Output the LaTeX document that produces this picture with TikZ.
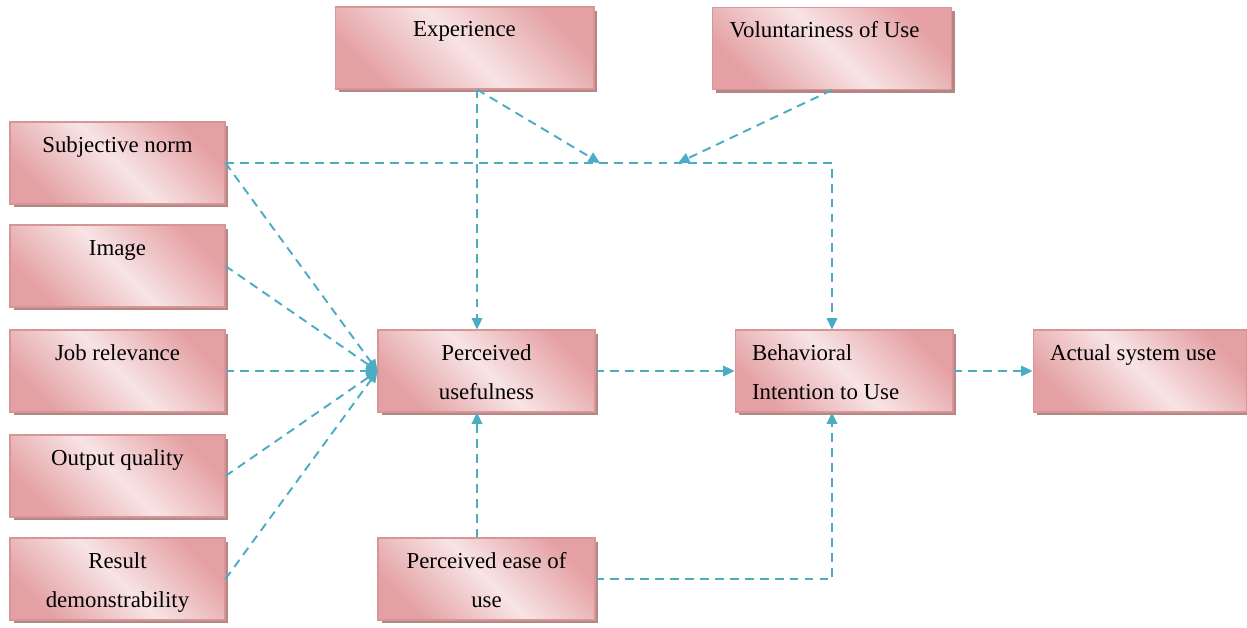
\documentclass[tikz,border=0pt]{standalone}
\usepackage{fontspec}
\setmainfont{Liberation Serif}
\usetikzlibrary{arrows.meta,shadows,calc}
\definecolor{boxdark}{RGB}{228,160,163}
\definecolor{boxlight}{RGB}{248,228,229}
\definecolor{boxedge}{RGB}{214,150,150}
\definecolor{boxshadow}{RGB}{180,134,134}
\definecolor{linkblue}{RGB}{75,172,198}
\tikzset{
  factor/.style={draw=boxedge, line width=0.6pt,
    top color=boxdark, bottom color=boxdark, middle color=boxlight, shading angle=-45,
    drop shadow={shadow xshift=0.07cm, shadow yshift=-0.07cm, fill=boxshadow, opacity=1},
    minimum height=1.64cm, inner xsep=0.34cm, inner ysep=0pt, text width=3.62cm,
    align=flush center, text height=0.35cm, text depth=0.79cm,
    font=\fontsize{13}{22.2}\selectfont},
  link/.style={draw=linkblue, line width=1.1pt, dash pattern=on 5pt off 3.5pt,
    -{Triangle[length=6.5pt,width=6pt]}}
}
\begin{document}
\begin{tikzpicture}[x=0.02cm, y=-0.02cm]
    \useasboundingbox (0,0) rectangle (1247,628);

    \node[factor, text width=4.5cm] (ex) at (464.5,48) {Experience};
    \node[factor, text width=4.1cm, align=flush left] (vol) at (832,48.5) {Voluntariness of Use};

    \node[factor] (sn) at (117.5,163) {Subjective norm};
    \node[factor] (im) at (117.5,266) {Image};
    \node[factor] (jr) at (117.5,371) {Job relevance};
    \node[factor] (oq) at (117.5,476) {Output quality};
    \node[factor] (rd) at (117.5,579) {Result\\demonstrability};

    \node[factor, text width=3.66cm] (pu) at (486.5,371) {Perceived\\usefulness};
    \node[factor, text width=3.66cm] (peu) at (486.5,579) {Perceived ease of\\use};
    \node[factor, text width=3.68cm, align=flush left] (bi) at (844,371) {Behavioral\\Intention to Use};
    \node[factor, text width=3.6cm, align=flush left] (asu) at (1140,371) {Actual system use};

    \coordinate (pux) at ([xshift=-0.19cm]pu.north);
    \coordinate (bix) at (bi.north -| vol.south);
    \coordinate (ma) at (600,163);
    \coordinate (mb) at (678,163);

    \draw[link] (sn.east) -| (bix);
    \draw[link] (ex.south -| pux) -- (pux);
    \draw[link] (ex.south -| pux) -- (ma);
    \draw[link] (vol.south) -- (mb);

    \foreach \n in {sn,im,jr,oq,rd}
        \draw[link] (\n.east) -- (pu.west);

    \draw[link] (pu.east) -- (bi.west);
    \draw[link] (bi.east) -- (asu.west);
    \draw[link] (peu.north -| pux) -- (pu.south -| pux);
    \draw[link] (peu.east) -| (bi.south -| bix);
\end{tikzpicture}
\end{document}
